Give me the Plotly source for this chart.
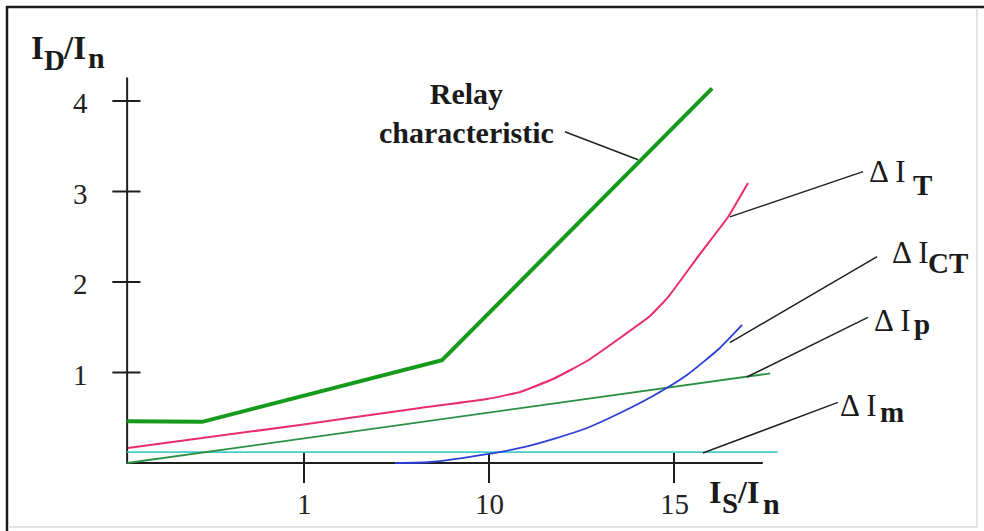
import plotly.graph_objects as go

# ---------------- data (x = I_S/I_n scale units, y = I_D/I_n) ----------------
relay_x = [0.22, 2.25, 8.73, 16.03]
relay_y = [0.46, 0.455, 1.135, 4.14]

dIT_x = [0.24, 4.89, 8.14, 9.95, 10.84, 11.73, 12.65, 13.54, 14.35, 14.84, 15.70, 16.46, 17.0]
dIT_y = [0.166, 0.42, 0.608, 0.707, 0.785, 0.928, 1.127, 1.381, 1.624, 1.834, 2.309, 2.718, 3.094]

dICT_x = [7.46, 8.41, 9.95, 10.84, 11.73, 12.65, 13.54, 14.43, 15.35, 16.24, 16.84]
dICT_y = [0.0, 0.011, 0.099, 0.166, 0.265, 0.387, 0.552, 0.74, 0.972, 1.271, 1.525]

dIp_x = [0.22, 17.6]
dIp_y = [0.0, 0.99]

dIm_x = [0.22, 17.8]
dIm_y = [0.12, 0.12]

x_tick_vals = [5, 10, 15]
x_tick_text = ["1", "10", "15"]
y_tick_vals = [1, 2, 3, 4]
y_tick_text = ["1", "2", "3", "4"]

axis_x0 = 0.22
axis_x1 = 17.4
axis_y1 = 4.26

# leader lines: (x_on_curve, y_on_curve, x_label, y_label)
leaders = [
    (14.03, 3.35, 12.05, 3.66),
    (16.51, 2.72, 20.11, 3.22),
    (16.51, 1.33, 20.49, 2.28),
    (16.97, 0.95, 20.24, 1.61),
    (15.78, 0.11, 19.43, 0.67),
]

# ---------------- pixel mapping of the frame ----------------
W, H = 984, 531
PX_PER_X = 37.0
PX_PER_Y = 90.5
X0_PX = 119.0
Y0_PX = 463.0
x_range = [-X0_PX / PX_PER_X, (W - X0_PX) / PX_PER_X]
y_range = [-(H - Y0_PX) / PX_PER_Y, Y0_PX / PX_PER_Y]


def px(x):
    return x / W


def py(y):
    return 1 - y / H


fig = go.Figure()

AX = "#1e1e1e"
# axes
fig.add_trace(go.Scatter(x=[axis_x0, axis_x0, axis_x1], y=[axis_y1, 0, 0], mode="lines",
                         line=dict(color=AX, width=2), hoverinfo="skip"))
# y ticks (crossing)
for v in y_tick_vals:
    fig.add_trace(go.Scatter(x=[axis_x0 - 0.4, axis_x0 + 0.36], y=[v, v], mode="lines",
                             line=dict(color=AX, width=2), hoverinfo="skip"))
# x ticks (crossing)
for v in x_tick_vals:
    fig.add_trace(go.Scatter(x=[v, v], y=[0.12, -0.22], mode="lines",
                             line=dict(color=AX, width=2), hoverinfo="skip"))

# curves
fig.add_trace(go.Scatter(x=dIm_x, y=dIm_y, mode="lines", line=dict(color="#45cccc", width=1.8)))
fig.add_trace(go.Scatter(x=dIp_x, y=dIp_y, mode="lines", line=dict(color="#2b9045", width=1.8)))
fig.add_trace(go.Scatter(x=dICT_x, y=dICT_y, mode="lines",
                         line=dict(color="#2b3fd6", width=1.8, shape="spline", smoothing=0.5)))
fig.add_trace(go.Scatter(x=dIT_x, y=dIT_y, mode="lines",
                         line=dict(color="#e82d6c", width=2, shape="spline", smoothing=0.4)))
fig.add_trace(go.Scatter(x=relay_x, y=relay_y, mode="lines", line=dict(color="#169a1c", width=4)))

# leader lines
for (xa, ya, xb, yb) in leaders:
    fig.add_trace(go.Scatter(x=[xa, xb], y=[ya, yb], mode="lines",
                             line=dict(color="#222222", width=1.5), hoverinfo="skip"))

SERIF = "Liberation Serif, Times New Roman, serif"
annotations = []

# tick labels
for v, t in zip(y_tick_vals, y_tick_text):
    annotations.append(dict(x=px(80), y=v, xref="paper", yref="y", text=t, showarrow=False,
                            xanchor="center", yanchor="middle", yshift=-2,
                            font=dict(family=SERIF, size=29, color="#222")))
for v, t in zip(x_tick_vals, x_tick_text):
    annotations.append(dict(x=v, y=py(504), xref="x", yref="paper", text=t, showarrow=False,
                            xanchor="center", yanchor="middle",
                            font=dict(family=SERIF, size=29, color="#222")))


def label(x, y, text, size, bold=False):
    t = "<b>%s</b>" % text if bold else text
    annotations.append(dict(x=px(x), y=py(y), xref="paper", yref="paper", text=t, showarrow=False,
                            xanchor="left", yanchor="middle", borderpad=0,
                            font=dict(family=SERIF, size=size, color="#1a1a1a")))


# axis titles
label(30, 48, "I", 33, True)
label(43, 60, "D", 29, True)
label(62, 48, "/I", 33, True)
label(87, 57, "n", 30, True)

label(708, 492, "I", 32, True)
label(721, 503, "S", 29, True)
label(736, 492, "/I", 32, True)
label(762, 503, "n", 30, True)

# series labels
D = "\u0394\u2009I"
label(868, 171, D, 31)
label(912, 185, "T", 29, True)
label(891, 252, D, 31)
label(927, 263, "CT", 29, True)
label(873, 320, D, 31)
label(913, 324, "p", 29, True)
label(839, 405, D, 31)
label(879, 412, "m", 29, True)

annotations.append(dict(x=px(466), y=py(113), xref="paper", yref="paper",
                        text="<b>Relay</b><br><b>characteristic</b>", showarrow=False,
                        xanchor="center", yanchor="middle", align="center",
                        font=dict(family=SERIF, size=30, color="#1a1a1a")))

shapes = [
    dict(type="line", xref="paper", yref="paper", x0=px(7), x1=px(7), y0=py(6), y1=py(531),
         line=dict(color="#1a1a1a", width=2.5)),
    dict(type="line", xref="paper", yref="paper", x0=px(6), x1=px(984), y0=py(7), y1=py(7),
         line=dict(color="#1a1a1a", width=2.5)),
    dict(type="line", xref="paper", yref="paper", x0=px(977), x1=px(977), y0=py(8), y1=py(527),
         line=dict(color="#d8d8d8", width=1.5)),
    dict(type="line", xref="paper", yref="paper", x0=px(8), x1=px(977), y0=py(527), y1=py(527),
         line=dict(color="#d8d8d8", width=1.5)),
]

fig.update_layout(
    width=W, height=H,
    margin=dict(l=0, r=0, t=0, b=0),
    paper_bgcolor="white", plot_bgcolor="white",
    showlegend=False,
    xaxis=dict(range=x_range, visible=False, fixedrange=True),
    yaxis=dict(range=y_range, visible=False, fixedrange=True),
    annotations=annotations,
    shapes=shapes,
)

fig.write_html("out.html")
